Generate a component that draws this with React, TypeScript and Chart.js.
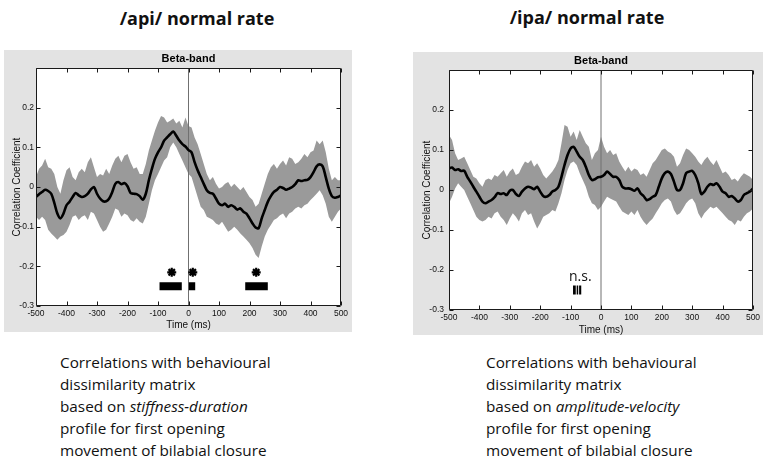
import React, { useEffect, useRef } from 'react';
import { Chart, registerables } from 'chart.js';

Chart.register(...registerables);

// ---- sampling grid (ms) ----
const TIME_MS: number[] = Array.from({ length: 101 }, (_, i) => -500 + 10 * i);
const X_TICKS = [-500, -400, -300, -200, -100, 0, 100, 200, 300, 400, 500];

// ---- /api/ normal rate ----
const API_MEAN = [
  -0.025, -0.018, -0.0125, -0.007, -0.010, -0.017, -0.040, -0.067, -0.079, -0.067,
  -0.046, -0.037, -0.025, -0.015, -0.021, -0.025, -0.023, -0.017, -0.006, 0.000,
  -0.017, -0.029, -0.036, -0.036, -0.029, -0.0125, 0.008, 0.0125, 0.007, 0.010,
  0.002, -0.015, -0.017, -0.018, -0.023, -0.032, -0.017, 0.017, 0.046, 0.071,
  0.0875, 0.100, 0.117, 0.125, 0.133, 0.140, 0.129, 0.117, 0.108, 0.102,
  0.093, 0.0875, 0.0625, 0.042, 0.025, 0.008, -0.008, -0.015, -0.017, -0.029,
  -0.042, -0.046, -0.042, -0.050, -0.046, -0.050, -0.057, -0.054, -0.0625, -0.067,
  -0.079, -0.092, -0.102, -0.104, -0.079, -0.058, -0.0375, -0.023, -0.0125, -0.007,
  0.000, -0.0025, -0.007, -0.004, 0.000, 0.007, 0.017, 0.015, 0.017, 0.018,
  0.025, 0.0375, 0.052, 0.057, 0.052, 0.025, -0.004, -0.023, -0.027, -0.025,
  -0.021,
];
const API_UPPER = [
  0.025, 0.046, 0.054, 0.071, 0.050, 0.046, 0.033, 0.000, -0.017, 0.017,
  0.042, 0.050, 0.025, 0.017, 0.0375, 0.046, 0.0375, 0.0625, 0.075, 0.050,
  0.025, 0.033, 0.029, 0.046, 0.033, 0.054, 0.071, 0.079, 0.0625, 0.079,
  0.083, 0.0625, 0.046, 0.050, 0.033, 0.033, 0.058, 0.092, 0.117, 0.142,
  0.1625, 0.179, 0.175, 0.1625, 0.167, 0.173, 0.160, 0.167, 0.150, 0.175,
  0.154, 0.150, 0.125, 0.108, 0.083, 0.058, 0.033, 0.017, 0.025, 0.008,
  -0.004, 0.000, 0.008, 0.0125, 0.000, 0.008, 0.000, -0.008, 0.000, -0.0125,
  -0.025, -0.033, -0.050, -0.042, -0.017, 0.008, 0.033, 0.050, 0.058, 0.046,
  0.058, 0.067, 0.054, 0.075, 0.071, 0.058, 0.0625, 0.071, 0.083, 0.075,
  0.0875, 0.092, 0.117, 0.108, 0.117, 0.0875, 0.046, 0.017, 0.025, 0.017,
  0.017,
];
const API_LOWER = [
  -0.075, -0.083, -0.075, -0.083, -0.108, -0.117, -0.125, -0.133, -0.125, -0.121,
  -0.1125, -0.096, -0.075, -0.071, -0.083, -0.075, -0.071, -0.083, -0.0625, -0.067,
  -0.083, -0.100, -0.1125, -0.108, -0.092, -0.075, -0.054, -0.058, -0.075, -0.067,
  -0.071, -0.083, -0.0875, -0.079, -0.0875, -0.092, -0.075, -0.042, -0.008, 0.017,
  0.033, 0.050, 0.067, 0.075, 0.100, 0.1125, 0.100, 0.083, 0.067, 0.050,
  0.033, 0.025, 0.000, -0.025, -0.050, -0.058, -0.075, -0.079, -0.083, -0.092,
  -0.096, -0.0875, -0.100, -0.1125, -0.108, -0.100, -0.108, -0.117, -0.125, -0.133,
  -0.142, -0.154, -0.171, -0.179, -0.150, -0.125, -0.108, -0.096, -0.083, -0.079,
  -0.071, -0.067, -0.079, -0.067, -0.0625, -0.054, -0.050, -0.054, -0.046, -0.042,
  -0.033, -0.025, -0.017, -0.008, -0.021, -0.042, -0.075, -0.0875, -0.075, -0.0625,
  -0.054,
];
const API_SIG_BARS: [number, number][] = [[-95, -22], [1, 22], [186, 260]];
const API_STARS_X = [-55, 14, 222];

// ---- /ipa/ normal rate ----
const IPA_MEAN = [
  0.054, 0.056, 0.050, 0.052, 0.0475, 0.048, 0.033, 0.021, 0.008, -0.004,
  -0.017, -0.029, -0.033, -0.029, -0.025, -0.018, -0.008, -0.010, -0.008, -0.0125,
  -0.002, 0.000, -0.010, -0.015, -0.004, 0.004, 0.008, 0.006, 0.002, 0.008,
  -0.004, -0.015, -0.017, -0.0125, -0.004, 0.000, 0.008, 0.033, 0.0625, 0.0875,
  0.104, 0.108, 0.096, 0.083, 0.075, 0.058, 0.0375, 0.025, 0.027, 0.032,
  0.033, 0.0375, 0.046, 0.040, 0.033, 0.033, 0.025, 0.008, 0.004, 0.004,
  0.002, -0.002, 0.004, -0.008, -0.015, -0.025, -0.023, -0.017, -0.0125, 0.008,
  0.029, 0.042, 0.046, 0.040, 0.021, 0.000, 0.000, 0.017, 0.042, 0.046,
  0.048, 0.0375, 0.017, -0.010, -0.004, 0.008, 0.015, 0.0125, 0.017, 0.008,
  -0.004, -0.008, -0.017, -0.015, -0.021, -0.029, -0.025, -0.0125, -0.008, -0.004,
  0.004,
];
const IPA_UPPER = [
  0.1375, 0.125, 0.092, 0.075, 0.079, 0.083, 0.067, 0.050, 0.033, 0.029,
  0.017, 0.008, 0.025, 0.029, 0.025, 0.0375, 0.033, 0.042, 0.050, 0.033,
  0.046, 0.054, 0.0375, 0.042, 0.058, 0.071, 0.067, 0.075, 0.058, 0.067,
  0.054, 0.0375, 0.029, 0.0375, 0.046, 0.058, 0.075, 0.117, 0.1625, 0.158,
  0.133, 0.146, 0.125, 0.150, 0.133, 0.117, 0.108, 0.075, 0.092, 0.100,
  0.133, 0.108, 0.092, 0.100, 0.0875, 0.092, 0.071, 0.058, 0.046, 0.058,
  0.046, 0.054, 0.050, 0.0375, 0.042, 0.033, 0.050, 0.067, 0.075, 0.0875,
  0.100, 0.104, 0.096, 0.092, 0.083, 0.058, 0.067, 0.0875, 0.104, 0.100,
  0.092, 0.083, 0.071, 0.0625, 0.075, 0.083, 0.071, 0.0625, 0.075, 0.058,
  0.042, 0.046, 0.0375, 0.025, 0.029, 0.021, 0.033, 0.042, 0.0375, 0.033,
  0.025,
];
const IPA_LOWER = [
  -0.033, -0.017, 0.004, 0.017, 0.008, 0.000, -0.017, -0.033, -0.050, -0.067,
  -0.075, -0.079, -0.075, -0.067, -0.071, -0.058, -0.054, -0.067, -0.075, -0.0875,
  -0.071, -0.058, -0.067, -0.079, -0.058, -0.050, -0.0625, -0.058, -0.079, -0.096,
  -0.083, -0.067, -0.0625, -0.058, -0.050, -0.054, -0.033, -0.008, 0.025, 0.050,
  0.067, 0.071, 0.0625, 0.042, 0.025, 0.008, -0.017, -0.033, -0.0375, -0.050,
  -0.042, -0.029, -0.017, -0.021, -0.025, -0.029, -0.042, -0.054, -0.058, -0.0625,
  -0.054, -0.0625, -0.050, -0.067, -0.079, -0.0875, -0.079, -0.071, -0.058, -0.046,
  -0.033, -0.025, -0.021, -0.029, -0.050, -0.0625, -0.058, -0.046, -0.033, -0.025,
  -0.021, -0.033, -0.058, -0.071, -0.058, -0.050, -0.042, -0.046, -0.042, -0.050,
  -0.058, -0.067, -0.075, -0.079, -0.0875, -0.075, -0.079, -0.067, -0.058, -0.054,
  -0.046,
];
const IPA_NS_BARS: [number, number][] = [[-92, -83], [-80, -75], [-72, -65]];
const IPA_NS_LABEL = { text: 'n.s.', x: -68, y: -0.2175 };

const BAR_LEVEL = -0.25;
const STAR_LEVEL = -0.215;

const BAND = '#9a9a9a';
const BOX_BG = '#e3e3e3';
const AXIS_FONT = '"Liberation Sans", Arial, sans-serif';

const matlabFrame = {
  id: 'matlabFrame',
  beforeDatasetsDraw(chart: any) {
    const { ctx, chartArea: a } = chart;
    ctx.save();
    ctx.fillStyle = '#ffffff';
    ctx.fillRect(a.left, a.top, a.right - a.left, a.bottom - a.top);
    ctx.restore();
  },
  afterDatasetsDraw(chart: any, _args: any, opts: any) {
    const { ctx, chartArea: a } = chart;
    const xs = chart.scales.x;
    const ys = chart.scales.y;
    ctx.save();
    ctx.strokeStyle = '#1a1a1a';
    ctx.lineWidth = 1;
    const L = Math.round(a.left) + 0.5;
    const R = Math.round(a.right) - 0.5;
    const T = Math.round(a.top) + 0.5;
    const B = Math.round(a.bottom) - 0.5;
    const tl = 4;
    ctx.beginPath();
    ctx.rect(L, T, R - L, B - T);
    xs.ticks.forEach((t: any) => {
      const px = Math.round(xs.getPixelForValue(t.value)) + 0.5;
      ctx.moveTo(px, B); ctx.lineTo(px, B - tl);
      ctx.moveTo(px, T); ctx.lineTo(px, T + tl);
    });
    ys.ticks.forEach((t: any) => {
      const py = Math.round(ys.getPixelForValue(t.value)) + 0.5;
      ctx.moveTo(L, py); ctx.lineTo(L + tl, py);
      ctx.moveTo(R, py); ctx.lineTo(R - tl, py);
    });
    ctx.stroke();
    ctx.fillStyle = '#000';
    ctx.textAlign = 'center';
    ctx.textBaseline = 'middle';
    ctx.font = 'bold 11px ' + AXIS_FONT;
    ctx.fillText(opts.title, (a.left + a.right) / 2, a.top - opts.titleOffset);
    if (opts.note) {
      ctx.font = '14px "Open Sans", sans-serif';
      ctx.fillStyle = '#111';
      ctx.fillText(opts.note.text, xs.getPixelForValue(opts.note.x), ys.getPixelForValue(opts.note.y));
    }
    ctx.restore();
  },
};

type PanelProps = {
  left: number; top: number; width: number; height: number;
  padLeft: number; padRight: number; padTop: number; padBottom: number;
  yTickPad: number; xTickPad: number; yTitlePad: number; xTitlePad: number;
  mean: number[]; upper: number[]; lower: number[];
  bars: [number, number][]; barWidth: number;
  stars?: number[];
  note?: { text: string; x: number; y: number };
};

function Panel(p: PanelProps) {
  const ref = useRef<HTMLCanvasElement>(null);
  useEffect(() => {
    const canvas = ref.current;
    if (!canvas) return;
    const toPts = (ys: number[]) => TIME_MS.map((t, i) => ({ x: t, y: ys[i] }));
    const barPts: any[] = [];
    p.bars.forEach(([a, b]) => {
      barPts.push({ x: a, y: BAR_LEVEL }, { x: b, y: BAR_LEVEL }, { x: b + 0.5, y: null });
    });
    const datasets: any[] = [
      { label: 'mean', data: toPts(p.mean), borderColor: '#000', borderWidth: 2.6, pointRadius: 0, tension: 0.3, fill: false, order: 0 },
      { label: 'upper', data: toPts(p.upper), borderWidth: 0, borderColor: 'rgba(0,0,0,0)', backgroundColor: BAND, pointRadius: 0, fill: '+1', order: 3 },
      { label: 'lower', data: toPts(p.lower), borderWidth: 0, borderColor: 'rgba(0,0,0,0)', pointRadius: 0, fill: false, order: 4 },
      { label: 'zero', data: [{ x: 0, y: -0.3 }, { x: 0, y: 0.3 }], borderColor: '#707070', borderWidth: 1, pointRadius: 0, fill: false, order: 2 },
      { label: 'sig', data: barPts, borderColor: '#000', borderWidth: p.barWidth, borderCapStyle: 'butt', pointRadius: 0, spanGaps: false, fill: false, order: 1 },
    ];
    if (p.stars) {
      datasets.push({
        label: 'stars', data: p.stars.map((x) => ({ x, y: STAR_LEVEL })), showLine: false,
        pointStyle: 'star', pointRadius: 4.5, borderColor: '#000', backgroundColor: '#000', borderWidth: 2.2, order: 0,
      });
    }
    const chart = new Chart(canvas, {
      type: 'line',
      data: { datasets },
      plugins: [matlabFrame as any],
      options: {
        animation: false,
        responsive: false,
        maintainAspectRatio: false,
        events: [],
        layout: { padding: { left: 0, right: p.padRight, top: p.padTop, bottom: 0 } },
        plugins: {
          legend: { display: false },
          tooltip: { enabled: false },
          title: { display: false },
          matlabFrame: { title: 'Beta-band', titleOffset: 9, note: p.note },
        } as any,
        scales: {
          x: {
            type: 'linear', min: -500, max: 500,
            afterBuildTicks: (s: any) => { s.ticks = X_TICKS.map((v) => ({ value: v })); },
            ticks: { font: { family: AXIS_FONT, size: 8.5 }, color: '#111', padding: p.xTickPad, maxRotation: 0, autoSkip: false },
            grid: { display: false, drawTicks: false },
            border: { display: false },
            title: { display: true, text: 'Time (ms)', font: { family: AXIS_FONT, size: 10 }, color: '#111', padding: { top: 0, bottom: p.xTitlePad } },
            afterFit: (s: any) => { s.height = p.padBottom; s.paddingLeft = 0; s.paddingRight = 0; },
          },
          y: {
            type: 'linear', min: -0.3, max: 0.3,
            ticks: {
              stepSize: 0.1, font: { family: AXIS_FONT, size: 8.5 }, color: '#111', padding: p.yTickPad,
              callback: (v: any) => { const n = Number(v); return n > 0.25 ? '' : String(Math.round(n * 10) / 10); },
            },
            grid: { display: false, drawTicks: false },
            border: { display: false },
            title: { display: true, text: 'Correlation Coefficient', font: { family: AXIS_FONT, size: 10 }, color: '#111', padding: { top: p.yTitlePad, bottom: 0 } },
            afterFit: (s: any) => { s.width = p.padLeft; s.paddingTop = 0; s.paddingBottom = 0; },
          },
        } as any,
      },
    });
    return () => chart.destroy();
  }, []);
  return (
    <canvas
      ref={ref}
      width={p.width}
      height={p.height}
      style={{ position: 'absolute', left: p.left, top: p.top, width: p.width, height: p.height, background: BOX_BG }}
    />
  );
}

const titleStyle: React.CSSProperties = {
  position: 'absolute', width: 200, textAlign: 'center',
  fontFamily: '"Open Sans", sans-serif', fontWeight: 700, fontSize: 18, lineHeight: '26px', color: '#111',
  whiteSpace: 'nowrap',
};
const captionStyle: React.CSSProperties = {
  position: 'absolute', fontFamily: '"Open Sans", sans-serif', fontSize: 15.3, lineHeight: '22px',
  color: '#111', whiteSpace: 'nowrap',
};

export default function App() {
  return (
    <div style={{ position: 'fixed', left: 0, top: 0, width: 767, height: 460, background: '#fff', overflow: 'hidden' }}>
      <div style={{ ...titleStyle, left: 97, top: 4.5 }}>/api/ normal rate</div>
      <div style={{ ...titleStyle, left: 487, top: 4 }}>/ipa/ normal rate</div>
      <Panel
        left={4} top={50} width={348} height={282}
        padLeft={32} padRight={11} padTop={18} padBottom={26}
        yTickPad={2} xTickPad={3} yTitlePad={7} xTitlePad={1}
        mean={API_MEAN} upper={API_UPPER} lower={API_LOWER}
        bars={API_SIG_BARS} barWidth={8} stars={API_STARS_X}
      />
      <Panel
        left={413} top={52} width={350} height={283}
        padLeft={36} padRight={10} padTop={18} padBottom={25}
        yTickPad={5} xTickPad={3} yTitlePad={8} xTitlePad={-1}
        mean={IPA_MEAN} upper={IPA_UPPER} lower={IPA_LOWER}
        bars={IPA_NS_BARS} barWidth={9} note={IPA_NS_LABEL}
      />
      <div style={{ ...captionStyle, left: 60, top: 351 }}>
        Correlations with behavioural<br />
        dissimilarity matrix<br />
        based on <i>stiffness-duration</i><br />
        profile for first opening<br />
        movement of bilabial closure
      </div>
      <div style={{ ...captionStyle, left: 486, top: 351 }}>
        Correlations with behavioural<br />
        dissimilarity matrix<br />
        based on <i>amplitude-velocity</i><br />
        profile for first opening<br />
        movement of bilabial closure
      </div>
    </div>
  );
}
